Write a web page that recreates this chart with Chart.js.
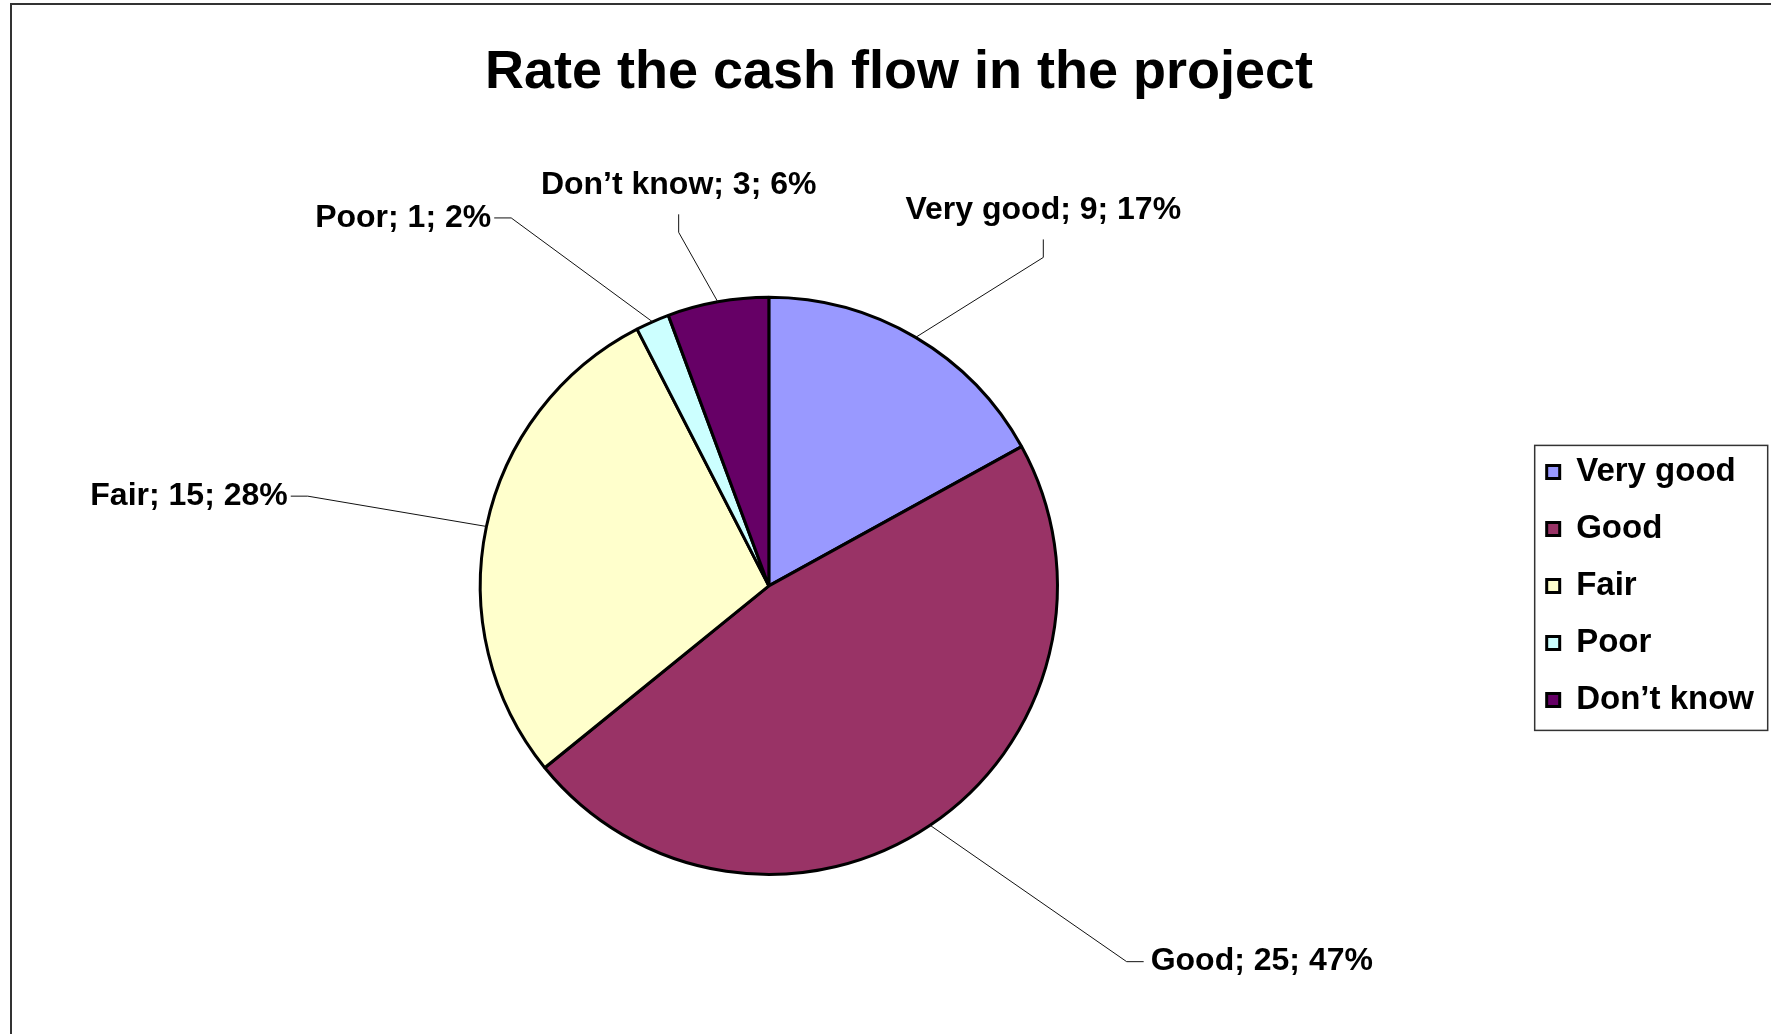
<!DOCTYPE html>
<html>
<head>
<meta charset="utf-8">
<title>Rate the cash flow in the project</title>
<script src="https://cdn.jsdelivr.net/npm/chart.js@4/dist/chart.umd.min.js"></script>
<style>
html,body{margin:0;padding:0;background:#fff;overflow:hidden}
#wrap{position:relative;width:1771px;height:1034px;overflow:hidden}
#frame{position:absolute;left:10px;top:3px;width:2000px;height:2000px;border-left:2px solid #333;border-top:2px solid #333}
canvas{position:absolute;left:0;top:0}
</style>
</head>
<body>
<div id="wrap">
<div id="frame"></div>
<canvas id="chart" width="1783" height="1034"></canvas>
</div>
<script>
const categories=["Very good","Good","Fair","Poor","Don’t know"]
const answers=[9,25,15,1,3]
const sliceColors=["#9999ff","#993366","#ffffcc","#ccffff","#660066"]

// callout text anchors, in pie radii from the centre
const calloutSpots=[
{dx:0.951,dy:-1.301,align:"center"},
{dx:1.323,dy:1.302,align:"left"},
{dx:-1.667,dy:-0.311,align:"right"},
{dx:-0.962,dy:-1.275,align:"right"},
{dx:-0.3125,dy:-1.388,align:"center"}
]

const fontFamily="'Liberation Sans', Arial, sans-serif"

// "Name; count; percent" labels with leader lines
const callouts={
id:"callouts",
afterDatasetsDraw(chart){
let ctx=chart.ctx
let meta=chart.getDatasetMeta(0)
let total=answers.reduce((a,b)=>a+b,0)
ctx.save()
ctx.font="bold 32px "+fontFamily
ctx.textBaseline="middle"
ctx.fillStyle="#000"
meta.data.forEach((arc,i)=>{
let p=arc.getProps(["x","y","startAngle","endAngle","outerRadius"],true)
let mid=(p.startAngle+p.endAngle)/2
let ex=p.x+Math.cos(mid)*p.outerRadius
let ey=p.y+Math.sin(mid)*p.outerRadius
let spot=calloutSpots[i]
let tx=p.x+spot.dx*p.outerRadius
let ty=p.y+spot.dy*p.outerRadius
let tipX,tipY,bendX,bendY
if(spot.align==="center"){
tipX=tx;tipY=ty+29;bendX=tx;bendY=tipY+18
}else if(spot.align==="left"){
tipX=tx-7;tipY=ty;bendX=tipX-17;bendY=ty
}else{
tipX=tx+3;tipY=ty;bendX=tipX+17;bendY=ty
}
ctx.strokeStyle="#111"
ctx.lineWidth=1
ctx.beginPath()
ctx.moveTo(ex,ey)
ctx.lineTo(bendX,bendY)
ctx.lineTo(tipX,tipY)
ctx.stroke()
let pct=Math.round(answers[i]/total*100)
ctx.textAlign=spot.align
ctx.fillText(categories[i]+"; "+answers[i]+"; "+pct+"%",tx,ty)
})
ctx.restore()
}
}

// thin box round the legend entries
const legendFrame={
id:"legendFrame",
afterDraw(chart){
let boxes=chart.legend&&chart.legend.legendHitBoxes
if(!boxes||!boxes.length) return
let ctx=chart.ctx
let left=Math.min(...boxes.map(b=>b.left))-12
let top=boxes[0].top-10
let last=boxes[boxes.length-1]
let bottom=last.top+last.height+14
let right=left+233
ctx.save()
ctx.strokeStyle="#333"
ctx.lineWidth=1.5
ctx.strokeRect(left,top,right-left,bottom-top)
ctx.restore()
}
}

// empty strip right of the legend (outer chart margin)
const rightMargin={
id:"rightMargin",
beforeInit(chart){
Chart.layouts.addBox(chart,{
position:"right",
weight:2000,
fullSize:false,
options:{},
width:0,
height:0,
isHorizontal(){return false},
update(maxWidth,maxHeight){this.width=19;this.height=maxHeight},
draw(){}
})
}
}

new Chart(document.getElementById("chart"),{
type:"pie",
data:{
labels:categories,
datasets:[{
data:answers,
backgroundColor:sliceColors,
borderColor:"#000",
borderWidth:3,
hoverOffset:0
}]
},
options:{
responsive:false,
animation:false,
layout:{padding:{left:15,right:0,top:0,bottom:158}},
plugins:{
title:{
display:true,
text:"Rate the cash flow in the project",
color:"#000",
font:{family:fontFamily,size:54,weight:"bold",lineHeight:1.2},
padding:{top:41,bottom:190}
},
legend:{
position:"right",
fullSize:false,
labels:{
color:"#000",
font:{family:fontFamily,size:33,weight:"bold"},
boxWidth:13,
boxHeight:13,
padding:24
}
},
tooltip:{enabled:false}
}
},
plugins:[rightMargin,callouts,legendFrame]
})
</script>
</body>
</html>
